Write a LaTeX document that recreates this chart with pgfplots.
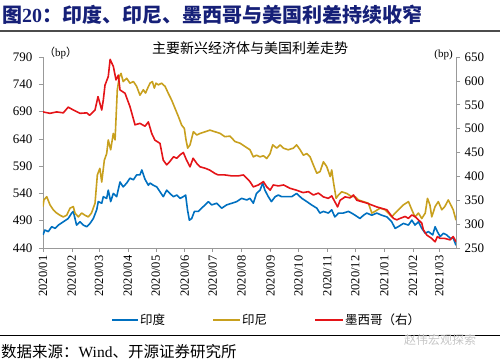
\documentclass[border=0pt]{standalone}
\usepackage{pgfplots}
\pgfplotsset{compat=1.18}
\usepackage{fontspec}
\setmainfont{Liberation Serif}
\newfontfamily\cjk{Noto Sans CJK SC}
\definecolor{cblue}{RGB}{0,112,192}
\definecolor{cgold}{RGB}{200,160,30}
\definecolor{cred}{RGB}{228,20,24}
\definecolor{ctitle}{RGB}{22,32,120}
\pgfplotsset{
  common/.style={
    at={(43pt,115pt)}, anchor=south west, scale only axis,
    width=413pt, height=191pt, xmin=0, xmax=443,
    tick label style={font=\fontsize{13}{13}\selectfont},
    /pgf/number format/assume math mode=true,
    /pgf/number format/1000 sep={},
    tick align=outside, major tick length=4pt,
    axis line style={gray!80, line width=0.7pt},
    tick style={gray!80, line width=0.6pt},
    every axis plot/.append style={line width=1.6pt, line join=round, mark=none},
  }
}
\begin{document}
\begin{tikzpicture}
\useasboundingbox (0,0) rectangle (500pt,363pt);
% title
\node[anchor=west, inner sep=0pt, text=ctitle] at (2pt,348pt)
  {\fontsize{20}{20}\selectfont{\cjk\bfseries 图}\textbf{20}{\cjk\bfseries ：印度、印尼、墨西哥与美国利差持续收窄}};
\draw[gray!60!black, line width=2pt] (0,332pt) -- (500pt,332pt);
% subtitle
\node[inner sep=0pt] at (250pt,315pt) {\fontsize{14}{14}\selectfont\cjk 主要新兴经济体与美国利差走势};
\node[inner sep=0pt, anchor=west] at (44pt,310pt) {\fontsize{11}{11}\selectfont{\cjk （}bp{\cjk ）}};
\node[inner sep=0pt, anchor=east] at (453pt,308pt) {\fontsize{11}{11}\selectfont (bp)};

\begin{axis}[common,
  ymin=440, ymax=790, ytick={440,490,...,790},
  axis x line*=bottom, axis y line*=left,
  yticklabel style={xshift=-3pt},
  xtick={0,31,60,91,121,152,182,213,244,274,305,335,366,397,425},
  xticklabels={2020/01,2020/02,2020/03,2020/04,2020/05,2020/06,2020/07,2020/08,2020/09,2020/10,2020/11,2020/12,2021/01,2021/02,2021/03},
  x tick label style={rotate=90, anchor=east, font=\fontsize{12.5}{12.5}\selectfont},
]
\addplot[cblue] coordinates {
(0,464)(2,473)(5.7,470)(9.3,479)(12.9,476)(16.5,482)(21.8,488)(27,494)(30.8,504)(32.5,507)
(36,482)(39.7,488)(43.2,482)(46.9,479)(50.4,485)(54,494)(57.6,510)(59.3,525)(63,522)(64.7,534)
(68.3,531)(70,546)(72.6,525)(75.4,540)(79,534)(82.6,561)(86,552)(89.8,559)(93.3,568)(97,565)
(100.5,574)(104,574)(106,583)(109.4,566)(113,555)(114.8,559)(118.3,555)(122,552)(125.5,543)
(129,534)(132.7,546)(136,540)(140,534)(143.5,537)(147,531)(150.5,534)(153,537)(155,510)(157,491)
(159.5,494)(162.4,507)(166.6,507)(172,516)(177.4,525)(181,519)(186.4,522)(191.7,513)(197,519)
(202.5,522)(207.8,525)(213,531)(218.6,528)(222,531)(225.6,522)(229,540)(232.8,546)(235.7,559)
(238,546)(241.7,534)(245,525)(249,534)(252.5,537)(256,534)(261.5,534)(266.8,534)(272,540)
(277.6,531)(283,525)(288,519)(293.7,513)(297,504)(300.8,507)(306,504)(309.7,510)(313,497)
(317,504)(322,504)(327.6,507)(331,504)(334.8,500)(340,494)(343.7,500)(347.3,504)(352.7,500)
(358,504)(363.4,500)(368.8,497)(374,488)(377.7,476)(381,479)(386.6,485)(392,482)(395.6,491)
(399,482)(402.7,488)(406.3,476)(410,467)(413.4,470)(418,464)(420.6,479)(423,470)(426,461)
(429.5,467)(433,464)(436.7,458)(440,458)(443,445)
};
\addplot[cgold] coordinates {
(0,516)(1,528)(4,534)(7.5,519)(11,510)(14.7,504)(18.2,500)(21.8,497)(25.4,500)(29,513)(32.5,516)
(34.3,504)(37.9,497)(41.5,504)(45,500)(48.6,497)(52,504)(55.8,522)(58.3,574)(61,586)(63,561)
(65.8,601)(68.3,613)(70,638)(72.6,620)(75.4,650)(77.3,638)(79.7,730)(81.9,754)(83.7,760)(86,745)
(89.8,751)(93.3,742)(97,745)(100.5,736)(104,720)(107.6,730)(110,724)(112.3,733)(114.8,742)
(117.3,745)(119.4,733)(121.2,742)(123.7,739)(127.3,742)(131,736)(134.5,723)(138,711)(141.6,696)
(145.2,681)(148.8,665)(151.6,659)(153.4,638)(155.2,623)(157.7,629)(161.3,653)(165,647)(168.5,650)
(174,653)(179,656)(184.5,653)(190,650)(195,644)(200.6,645)(206,635)(211.4,632)(216.7,626)(222,620)
(225.6,607)(229,610)(232.8,607)(236.4,609)(240,604)(243.6,613)(246.4,629)(250.7,623)(254.3,629)
(257.8,623)(263,620)(268.6,623)(272,629)(275.8,620)(279.3,610)(283,613)(286.5,607)(290,592)
(293.7,577)(297.2,580)(300.8,598)(304.4,589)(308,571)(309.7,583)(311.5,561)(314.4,531)(316.8,537)
(320.5,543)(325.8,540)(331,534)(334.8,534)(338.3,528)(343.7,525)(349,522)(352.7,504)(356,507)
(361.6,513)(367,510)(370.5,504)(374,497)(377.7,504)(383,513)(386.6,519)(392,525)(395.6,510)
(399,497)(402.7,504)(406.3,494)(410,504)(412.4,531)(415,519)(417,497)(420.6,516)(424,525)
(427.8,510)(431,516)(434.7,528)(438.3,516)(440,510)(443,491)
};
\end{axis}

\begin{axis}[common,
  ymin=250, ymax=650, ytick={250,300,...,650},
  axis y line*=right, axis x line=none,
  yticklabel style={xshift=1pt},
]
\addplot[cred] coordinates {
(0,535)(7.5,532)(14.7,535)(21.8,533)(27,545)(32.5,539)(39.7,532)(46.9,533)(50,528)(55.8,539)
(59,567)(63,539)(64.7,560)(66.5,591)(70,609)(72,645)(75.5,630)(78.3,602)(80.8,612)(82.6,581)
(88,574)(93.3,546)(98.7,508)(104,511)(109.4,505)(113,514)(116.6,490)(120,476)(125.5,469)(129,434)
(132.7,424)(136,431)(140,441)(143.5,438)(147,445)(150.5,450)(154,434)(157.7,420)(161,438)(165,427)
(168.5,420)(174,417)(179,413)(184.5,406)(188,403)(195,403)(202.5,401)(209.5,401)(215,403)
(218.6,396)(222,389)(225.6,378)(231,382)(236.4,389)(240,378)(243.6,371)(247,382)(252.5,380)
(258,382)(265,375)(272,371)(279,366)(284.7,368)(290,361)(295.4,365)(300.8,357)(306,354)
(309.7,359)(313,347)(316,336)(318.7,350)(324,357)(329.4,355)(333,361)(336.6,350)(342,347)
(347.3,344)(352.7,340)(358,336)(363.4,333)(368.8,330)(372.3,321)(375.9,312)(379.5,309)(383,312)
(388.4,316)(392,312)(395.6,319)(399,316)(402.7,309)(406.3,302)(408,288)(411.7,277)(417,270)
(420.6,263)(423,274)(426,270)(431,270)(436.7,267)(440,274)(443,263)
};
\end{axis}

% legend
\draw[cblue, line width=2pt] (112pt,43pt) -- (138pt,43pt);
\node[anchor=west, inner sep=0pt] at (140pt,43pt) {\fontsize{12.5}{12.5}\selectfont\cjk 印度};
\draw[cgold, line width=2pt] (213pt,43pt) -- (240pt,43pt);
\node[anchor=west, inner sep=0pt] at (242pt,43pt) {\fontsize{12.5}{12.5}\selectfont\cjk 印尼};
\draw[cred, line width=2pt] (315pt,43pt) -- (343pt,43pt);
\node[anchor=west, inner sep=0pt] at (345pt,43pt) {\fontsize{12.5}{12.5}\selectfont\cjk 墨西哥（右）};
% source
\draw[black, line width=1pt] (0,27pt) -- (500pt,27pt);
\node[anchor=west, inner sep=0pt] at (1pt,11pt) {\fontsize{15.5}{15.5}\selectfont{\cjk 数据来源：}Wind{\cjk 、开源证券研究所}};
\node[anchor=center, inner sep=0pt, text=gray!45] at (440pt,23pt) {\fontsize{12}{12}\selectfont\cjk 赵伟宏观探索};
\end{tikzpicture}
\end{document}
